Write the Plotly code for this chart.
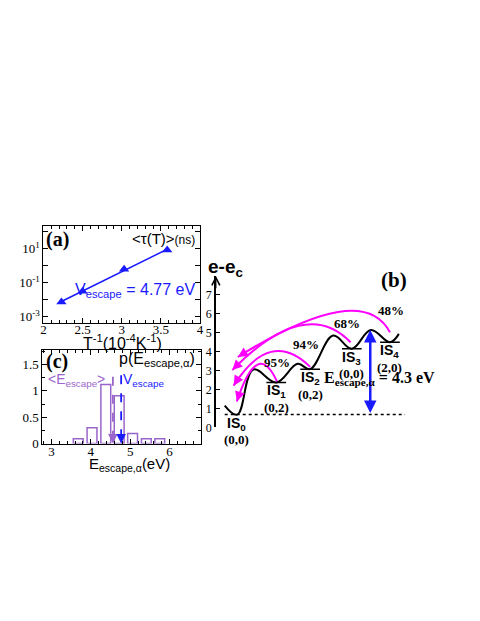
import numpy as np
import plotly.graph_objects as go

# (a) mean escape time vs inverse temperature
inv_temp = [2.23, 2.50, 3.03, 3.58]          # 10^-4 K^-1
tau_ns = [0.0074, 0.032, 0.63, 8.3]
v_escape = 4.77                              # eV

# (c) distribution of escape energies
e_bins = [3.68, 4.03, 4.38, 4.72, 5.06, 5.41, 5.75]
p_bins = [0.09, 0.30, 1.12, 0.91, 0.19, 0.09, 0.09]
e_mean = 4.56

# (b) energy landscape along the escape path
path_x = [0.9, 2.17, 3.8, 6.13, 8.3, 9.57, 11.9, 13.8, 15.73, 17.67, 18.57]
path_e = [1.15, 0.67, 3.05, 2.37, 3.35, 3.07, 4.84, 4.15, 5.14, 4.49, 4.93]
is_x = [2.07, 6.13, 9.57, 13.8, 17.67]
is_e = [0.67, 2.37, 3.07, 4.15, 4.49]
is_codes = ["(0,0)", "(0,2)", "(0,2)", "(0,0)", "(2,0)"]
return_pct = ["95%", "94%", "68%", "48%"]
barrier_top = 5.14
e_escape_alpha = 4.3

SERIF = "Liberation Serif"
SANS = "Liberation Sans"
BLUE = "#1a1aff"
PURPLE = "#9966cc"
MAGENTA = "#ff00ff"


def px(x):
    return x / 480


def py(y):
    return 1 - y / 621


def label(x, y, text, size, color="black", family=SANS, xanchor="center", ref="paper"):
    if ref == "paper":
        x, y = px(x), py(y)
        xr, yr = "paper", "paper"
    else:
        xr, yr = "x3", "y3"
    return dict(x=x, y=y, xref=xr, yref=yr, text=text, showarrow=False,
                xanchor=xanchor, yanchor="middle",
                font=dict(family=family, size=size, color=color))


fig = go.Figure()

# ---- panel (a)
coef = np.polyfit(inv_temp, np.log10(tau_ns), 1)
fit_x = np.array([inv_temp[0], inv_temp[-1]])
fig.add_trace(go.Scatter(x=fit_x, y=10 ** np.polyval(coef, fit_x), mode="lines",
                         line=dict(color=BLUE, width=1.5), xaxis="x", yaxis="y"))
fig.add_trace(go.Scatter(x=inv_temp, y=tau_ns, mode="markers",
                         marker=dict(symbol="triangle-up", size=9, color=BLUE),
                         xaxis="x", yaxis="y"))

# ---- panel (c)
fig.add_trace(go.Bar(x=e_bins, y=p_bins, width=0.25, xaxis="x2", yaxis="y2",
                     marker=dict(color="rgba(0,0,0,0)", line=dict(color=PURPLE, width=1.5))))
for xv, col, top in [(e_mean, PURPLE, 1.27), (v_escape, BLUE, 1.30)]:
    fig.add_trace(go.Scatter(x=[xv, xv], y=[top, 0.05], mode="lines", xaxis="x2", yaxis="y2",
                             line=dict(color=col, width=1.8, dash="dash")))

# ---- panel (b)
fig.add_trace(go.Scatter(x=path_x, y=path_e, mode="lines", xaxis="x3", yaxis="y3",
                         line=dict(color="black", width=2, shape="spline", smoothing=1.1)))
fig.add_trace(go.Scatter(x=[0.9, 19.2], y=[is_e[0], is_e[0]], mode="lines", xaxis="x3", yaxis="y3",
                         line=dict(color="black", width=1.5, dash="dot")))

shapes = []
for xv, ev in zip(is_x[1:], is_e[1:]):
    shapes.append(dict(type="line", xref="x3", yref="y3", x0=xv - 1.0, x1=xv + 1.0,
                       y0=ev, y1=ev, line=dict(color="black", width=1.5)))

annotations = []

# return arcs: start, apex, end (x3/y3 units)
arcs = [
    ((6.2, 2.42), (4.2, 3.3), (2.13, 1.36)),
    ((9.57, 3.19), (5.6, 3.98), (1.8, 2.2)),
    ((13.67, 4.49), (8.4, 5.36), (1.67, 3.02)),
    ((17.67, 5.01), (12.4, 6.09), (2.23, 3.71)),
]
for p0, m, p2 in arcs:
    cx = 2 * m[0] - (p0[0] + p2[0]) / 2
    cy = 2 * m[1] - (p0[1] + p2[1]) / 2
    shapes.append(dict(type="path", xref="x3", yref="y3",
                       path=f"M {p0[0]},{p0[1]} Q {cx},{cy} {p2[0]},{p2[1]}",
                       line=dict(color=MAGENTA, width=2)))
    dx, dy = (cx - p2[0]) * 10, -(cy - p2[1]) * 19.2
    n = np.hypot(dx, dy)
    annotations.append(dict(x=p2[0], y=p2[1], xref="x3", yref="y3", showarrow=True,
                            ax=dx / n * 8, ay=dy / n * 8, arrowhead=2, arrowsize=1.0,
                            arrowwidth=2, arrowcolor=MAGENTA, text=""))

pct_pos = [(6.2, 3.43), (9.13, 4.35), (13.3, 5.5), (17.73, 6.18)]
for (xv, yv), t in zip(pct_pos, return_pct):
    annotations.append(label(xv, yv, f"<b>{t}</b>", 13, family=SERIF, ref="x3"))

for i, (xv, ev, code) in enumerate(zip(is_x, is_e, is_codes)):
    a = label(xv, ev, f"<b>IS<sub>{i}</sub></b>", 14, ref="x3")
    a["yshift"] = -9
    annotations.append(a)
    b = label(xv, ev, f"<b>{code}</b>", 13, family=SERIF, ref="x3")
    b["yshift"] = -25
    annotations.append(b)

# escape barrier arrow
annotations.append(dict(x=15.67, y=barrier_top, ax=15.67, ay=is_e[0], xref="x3", yref="y3",
                        axref="x3", ayref="y3", showarrow=True, arrowside="end+start",
                        arrowhead=2, arrowsize=1.0, arrowwidth=2.5, arrowcolor=BLUE, text=""))
annotations.append(label(16.6, 2.55, f"<b>E<sub>escape,α</sub> = {e_escape_alpha} eV</b>", 16,
                         family=SERIF, ref="x3"))

# y axis arrow of (b)
annotations.append(dict(x=0, y=8, xref="x3", yref="y3", ax=0, ay=14, showarrow=True,
                        arrowhead=5, arrowsize=1.3, arrowwidth=1.2, arrowcolor="black", text=""))
annotations.append(label(206, 271, "<b>e-e<sub>c</sub></b>", 19, xanchor="left"))
annotations.append(label(397, 284, "<b>(b)</b>", 21, family=SERIF))

# panel (a) texts
annotations += [
    label(55, 243, "<b>(a)</b>", 20, family=SERIF),
    label(197, 242, "&lt;τ(T)&gt;<span style='font-size:12px'>(ns)</span>", 15, xanchor="right"),
    label(197, 294, f"V<sub>escape</sub> = {v_escape} eV", 16, color=BLUE, xanchor="right"),
    label(121, 346, "T<sup>-1</sup>(10<sup>-4</sup>K<sup>-1</sup>)", 16),
]

# panel (c) texts
annotations += [
    label(55, 366, "<b>(c)</b>", 20, family=SERIF),
    label(197, 364, "p(E<sub>escape,α</sub>)", 16, xanchor="right"),
    label(106, 385, "&lt;E<sub>escape</sub>&gt;", 14, color=PURPLE, xanchor="right"),
    label(120, 385, "V<sub>escape</sub>", 14, color=BLUE, xanchor="left"),
    label(128, 471, "E<sub>escape,α</sub>(eV)", 15),
]
for xv, col in [(e_mean, PURPLE), (v_escape, BLUE)]:
    annotations.append(dict(x=xv, y=0, xref="x2", yref="y2", ax=0, ay=-9, showarrow=True,
                            arrowhead=2, arrowsize=1.2, arrowwidth=1.6, arrowcolor=col, text=""))

frame = dict(showline=True, linecolor="black", linewidth=1, mirror="allticks", ticks="inside",
             ticklen=5, tickcolor="black", showgrid=False, zeroline=False,
             tickfont=dict(family=SERIF, size=13, color="black"))

fig.update_layout(
    width=480, height=621, margin=dict(l=0, r=0, t=0, b=0),
    paper_bgcolor="white", plot_bgcolor="rgba(0,0,0,0)", showlegend=False,
    xaxis=dict(domain=[px(41), px(200)], range=[2, 4], anchor="y", dtick=0.5, ticklabelstandoff=-5,
               minor=dict(dtick=0.1, ticks="inside", ticklen=3, tickcolor="black"), **frame),
    yaxis=dict(domain=[py(327), py(229)], type="log", range=[-3.35, 2.33], anchor="x",
               tickvals=[1e-3, 1e-2, 1e-1, 1, 10, 100],
               ticktext=["10<sup>-3</sup>", "", "10<sup>-1</sup>", "", "10<sup>1</sup>", ""], **frame),
    xaxis2=dict(domain=[px(40), px(201)], range=[2.77, 6.8], anchor="y2", dtick=1, ticklabelstandoff=-4,
                minor=dict(dtick=0.2, ticks="inside", ticklen=3, tickcolor="black"), **frame),
    yaxis2=dict(domain=[py(449.3), py(355)], range=[0, 1.77], anchor="x2", dtick=0.5,
                minor=dict(dtick=0.25, ticks="inside", ticklen=3, tickcolor="black"), **frame),
    xaxis3=dict(domain=[px(216), 1], range=[0, 26.4], anchor="y3", visible=False),
    yaxis3=dict(domain=[py(432.9), py(279.3)], range=[0, 8], anchor="x3", showline=True,
                linecolor="black", linewidth=1.5, ticks="inside", ticklen=4, tickcolor="black",
                tickwidth=1.2, tickvals=list(range(8)), showgrid=False, zeroline=False,
                tickfont=dict(family=SERIF, size=12, color="black")),
    shapes=shapes, annotations=annotations,
)

fig.write_html("out.html", config={"displayModeBar": False},
               post_script="document.body.style.margin='0px';")
